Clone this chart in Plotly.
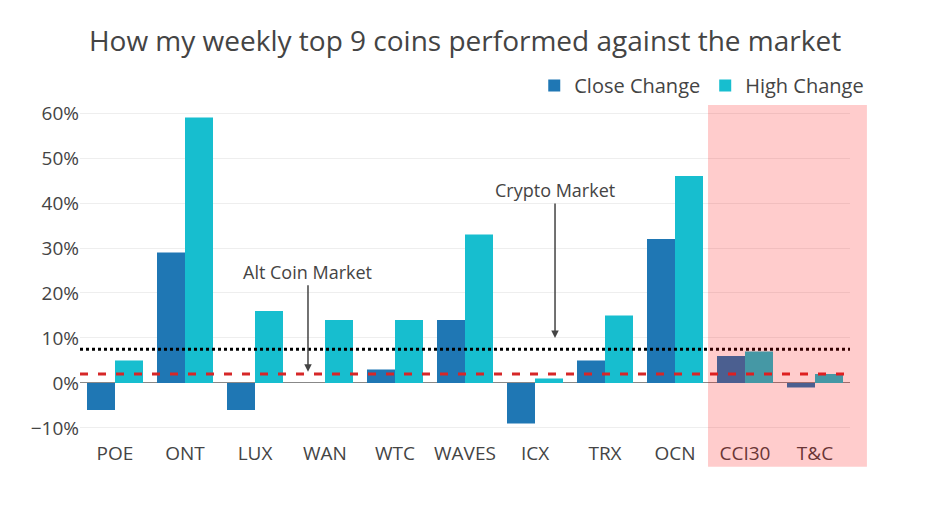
import plotly.graph_objects as go

coins = ["POE", "ONT", "LUX", "WAN", "WTC", "WAVES", "ICX", "TRX", "OCN", "CCI30", "T&C"]
close_change = [-0.06, 0.29, -0.06, 0.0, 0.03, 0.14, -0.09, 0.05, 0.32, 0.06, -0.01]
high_change = [0.05, 0.59, 0.16, 0.14, 0.14, 0.33, 0.01, 0.15, 0.46, 0.07, 0.02]
crypto_market = 0.075
alt_market = 0.02

fig = go.Figure()
fig.add_trace(go.Bar(x=coins, y=close_change, name="Close Change", marker_color="#1f77b4",
                     marker_line_width=0))
fig.add_trace(go.Bar(x=coins, y=high_change, name="High Change", marker_color="#17becf",
                     marker_line_width=0))

fig.add_shape(type="line", xref="paper", x0=0, x1=1, yref="y", y0=crypto_market, y1=crypto_market,
              line=dict(color="black", width=3, dash="dot"))
fig.add_shape(type="line", xref="paper", x0=0, x1=0.995, yref="y", y0=alt_market, y1=alt_market,
              line=dict(color="#d62728", width=3, dash="8px,10px"))
fig.add_shape(type="rect", xref="paper", x0=0.8156, x1=1.022, yref="paper", y0=-0.079, y1=1.0,
              fillcolor="rgba(255,0,0,0.2)", line=dict(width=0), layer="above")

fig.add_annotation(x=2.757, y=0.025, text="Alt Coin Market", showarrow=True, ax=0, ay=-100,
                   arrowhead=2, arrowsize=1, arrowwidth=1.5, arrowcolor="#444",
                   font=dict(size=18, color="#444"))
fig.add_annotation(x=6.286, y=0.10, text="Crypto Market", showarrow=True, ax=0, ay=-148,
                   arrowhead=2, arrowsize=1, arrowwidth=1.5, arrowcolor="#444",
                   font=dict(size=18, color="#444"))

fig.update_layout(
    width=922, height=514,
    title=dict(text="How my weekly top 9 coins performed against the market", x=0.4957, xanchor="center",
               y=0.9358, yanchor="middle", font=dict(size=28, color="#444")),
    font=dict(family="Open Sans", size=19, color="#444"),
    margin=dict(l=72, r=80, t=92, b=82, autoexpand=False),
    plot_bgcolor="white", paper_bgcolor="white",
    barmode="group", bargap=0.2, bargroupgap=0,
    legend=dict(orientation="h", x=1.025, xanchor="right", y=0.985, yanchor="bottom",
                font=dict(size=20)),
    xaxis=dict(showgrid=False, automargin=False, range=[-0.5, 10.5]),
    yaxis=dict(range=[-0.1267, 0.6289], tickformat=".0%", dtick=0.1, gridcolor="#eee",
               zeroline=True, zerolinecolor="#888", zerolinewidth=1, automargin=False),
)

fig.write_html("out.html")
